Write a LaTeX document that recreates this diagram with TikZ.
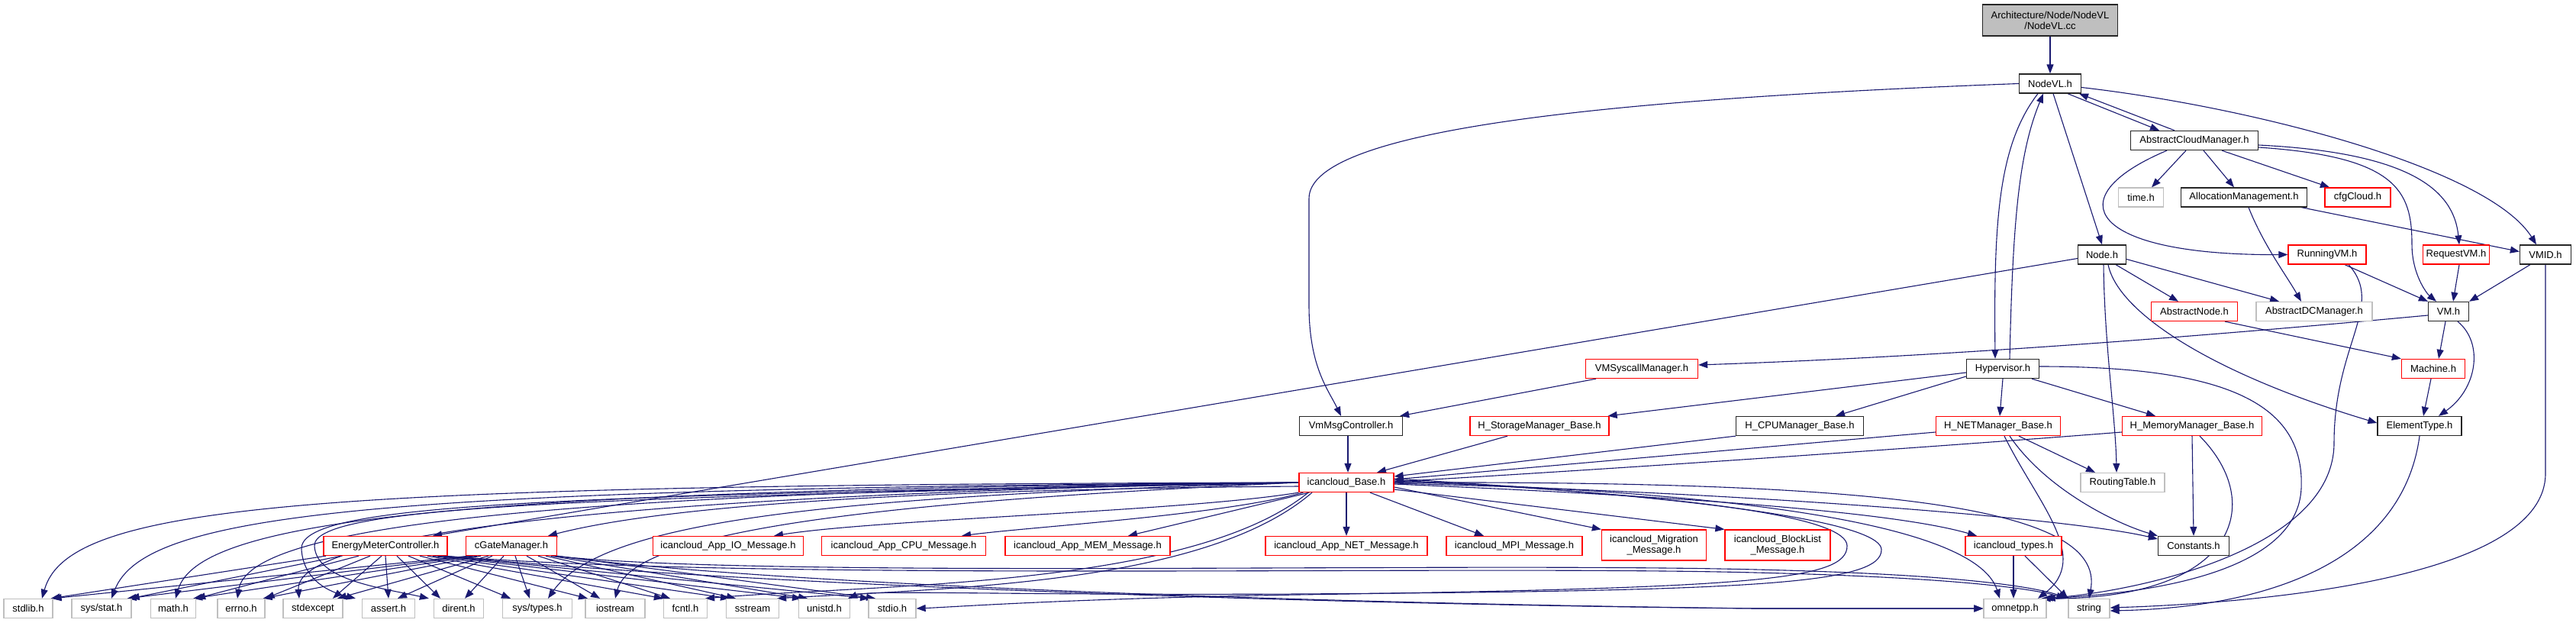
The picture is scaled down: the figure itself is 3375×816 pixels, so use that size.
\documentclass[tikz,border=0pt]{standalone}
\usepackage{fontspec}
\setmainfont{Liberation Sans}
\usetikzlibrary{arrows.meta}
\definecolor{edgeblue}{HTML}{191970}
\definecolor{grayb}{HTML}{BFBFBF}
\pgfdeclarelayer{back}
\pgfdeclarelayer{bg}
\pgfsetlayers{back,bg,main}
\begin{document}
\begin{tikzpicture}[x=1pt,y=-1pt,
  nbox/.style={draw, line width=1.3pt, fill=white, minimum height=25pt, inner sep=0pt, font=\fontsize{13}{14}\selectfont},
  blk/.style={nbox, draw=black!85},
  rbox/.style={nbox, draw=red},
  gbox/.style={nbox, draw=grayb},
  conn/.style={draw=edgeblue, line width=1.1pt, -{Triangle[length=12pt,width=9pt]}},
]
\begin{pgfonlayer}{back}
\fill[white] (0,0) rectangle (3375,816);
\end{pgfonlayer}
\useasboundingbox (0,0) rectangle (3375,816);

% ---------------- nodes ----------------
\node[blk, fill=grayb, minimum width=177, minimum height=41, align=center] (cc) at (2686,26.5) {Architecture/Node/NodeVL\\/NodeVL.cc};
\node[blk, minimum width=81] (nodevl) at (2686,109.5) {NodeVL.h};
\node[blk, minimum width=167] (acm) at (2875,184) {AbstractCloudManager.h};
\node[gbox, minimum width=59] (time) at (2805,258.5) {time.h};
\node[blk, minimum width=165] (alloc) at (2940,258.5) {AllocationManagement.h};
\node[rbox, minimum width=86] (cfg) at (3089,258.5) {cfgCloud.h};
\node[blk, minimum width=63] (node) at (2754,333.5) {Node.h};
\node[rbox, minimum width=102] (running) at (3049,333.5) {RunningVM.h};
\node[rbox, minimum width=87] (request) at (3218,333.5) {RequestVM.h};
\node[blk, minimum width=67] (vmid) at (3335,333.5) {VMID.h};
\node[rbox, minimum width=113] (abnode) at (2875,408) {AbstractNode.h};
\node[gbox, minimum width=152] (absdc) at (3032,408) {AbstractDCManager.h};
\node[blk, minimum width=53] (vm) at (3208,408) {VM.h};
\node[rbox, minimum width=147] (vmsys) at (2151,483) {VMSyscallManager.h};
\node[blk, minimum width=95] (hyper) at (2624,483) {Hypervisor.h};
\node[rbox, minimum width=83] (machine) at (3188,483) {Machine.h};
\node[blk, minimum width=135] (vmmsg) at (1770,558) {VmMsgController.h};
\node[rbox, minimum width=182] (hstor) at (2017,558) {H\_StorageManager\_Base.h};
\node[blk, minimum width=167] (hcpu) at (2358,558) {H\_CPUManager\_Base.h};
\node[rbox, minimum width=163] (hnet) at (2618,558) {H\_NETManager\_Base.h};
\node[rbox, minimum width=183] (hmem) at (2872,558) {H\_MemoryManager\_Base.h};
\node[blk, minimum width=110] (elem) at (3170,558) {ElementType.h};
\node[rbox, minimum width=124] (base) at (1764,632) {icancloud\_Base.h};
\node[gbox, minimum width=110] (routing) at (2781,632) {RoutingTable.h};
\node[rbox, minimum width=162] (emc) at (505,715) {EnergyMeterController.h};
\node[rbox, minimum width=119] (cgate) at (670,715) {cGateManager.h};
\node[rbox, minimum width=197] (io) at (954,715) {icancloud\_App\_IO\_Message.h};
\node[rbox, minimum width=215] (cpu) at (1184,715) {icancloud\_App\_CPU\_Message.h};
\node[rbox, minimum width=216] (mem) at (1425,715) {icancloud\_App\_MEM\_Message.h};
\node[rbox, minimum width=212] (net) at (1764,715) {icancloud\_App\_NET\_Message.h};
\node[rbox, minimum width=178] (mpi) at (1984,715) {icancloud\_MPI\_Message.h};
\node[rbox, minimum width=137, minimum height=40, align=center] (migr) at (2167,714) {icancloud\_Migration\\\_Message.h};
\node[rbox, minimum width=138, minimum height=40, align=center] (block) at (2329,714) {icancloud\_BlockList\\\_Message.h};
\node[rbox, minimum width=126] (types) at (2638,715) {icancloud\_types.h};
\node[blk, minimum width=93] (constants) at (2874,715) {Constants.h};
\node[gbox, minimum width=64] (stdlib) at (37,797) {stdlib.h};
\node[gbox, minimum width=78] (sysstat) at (133,797) {sys/stat.h};
\node[gbox, minimum width=59] (math) at (227,797) {math.h};
\node[gbox, minimum width=62] (errno) at (316,797) {errno.h};
\node[gbox, minimum width=78] (stdexcept) at (410,797) {stdexcept};
\node[gbox, minimum width=69] (assert) at (509,797) {assert.h};
\node[gbox, minimum width=65] (dirent) at (601,797) {dirent.h};
\node[gbox, minimum width=91] (systypes) at (704,797) {sys/types.h};
\node[gbox, minimum width=78] (iostream) at (806,797) {iostream};
\node[gbox, minimum width=57] (fcntl) at (898,797) {fcntl.h};
\node[gbox, minimum width=69] (sstream) at (986,797) {sstream};
\node[gbox, minimum width=67] (unistd) at (1080,797) {unistd.h};
\node[gbox, minimum width=62] (stdio) at (1169,797) {stdio.h};
\node[gbox, minimum width=82] (omnetpp) at (2640,797) {omnetpp.h};
\node[gbox, minimum width=54] (string) at (2737,797) {string};

% ---------------- connectors ----------------
\begin{pgfonlayer}{bg}
\draw[conn] (cc.south) -- (nodevl.north);
\draw[conn] ([xshift=23]nodevl.south) -- ([xshift=-46]acm.north);
\draw[conn] ([xshift=-26]acm.north) -- ([xshift=38]nodevl.south);
\draw[conn] ([yshift=-5]nodevl.east) .. controls (2950,140) and (3260,220) .. ([xshift=-12]vmid.north);
\draw[conn] ([xshift=4]nodevl.south) -- (node.north);
\draw[conn] ([xshift=-16]nodevl.south) .. controls (2618,190) and (2612,290) .. ([xshift=-10]hyper.north);
\draw[conn] ([xshift=9]hyper.north) .. controls (2637,290) and (2645,200) .. ([xshift=-9]nodevl.south);
\draw[conn] (nodevl.west) .. controls (2100,130) and (1715,170) .. (1715,260) -- (1715,400) .. controls (1715,480) and (1740,510) .. ([xshift=-13]vmmsg.north);
% AbstractCloudManager
\draw[conn] ([xshift=-11]acm.south) -- ([xshift=14]time.north);
\draw[conn] ([xshift=12]acm.south) -- ([xshift=-13]alloc.north);
\draw[conn] ([xshift=36]acm.south) -- ([xshift=-37]cfg.north);
\draw[conn] ([xshift=-36]acm.south) .. controls (2690,260) and (2740,335) .. (running.west);
\draw[conn] ([yshift=-9]acm.east) .. controls (3140,205) and (3160,250) .. (3160,320) .. controls (3160,360) and (3180,385) .. ([xshift=-16]vm.north);
\draw[conn] ([yshift=-6]acm.east) .. controls (3160,200) and (3215,250) .. ([xshift=4]request.north);
% AllocationManagement
\draw[conn] ([xshift=6]alloc.south) .. controls (2965,320) and (2995,360) .. ([xshift=-17]absdc.north);
\draw[conn] ([xshift=-8]alloc.south east) -- ([yshift=4]vmid.west);
% Node
\draw[conn] ([xshift=18]node.south) -- ([xshift=-21]abnode.north);
\draw[conn] ([yshift=-6]node.east) -- ([xshift=-46]absdc.north);
\draw[conn] ([xshift=2]node.south) .. controls (2757,450) and (2772,550) .. ([xshift=-8]routing.north);
\draw[conn] ([xshift=8]node.south) .. controls (2775,410) and (2900,490) .. ([yshift=4]elem.west);
\draw[conn] ([yshift=-5]node.west) -- ([xshift=62]emc.north);
% RunningVM, RequestVM, VMID
\draw[conn] ([xshift=23]running.south) -- (vm.north west);
\draw[conn] ([xshift=28]running.south) .. controls (3125,400) and (3058,450) .. (3058,580) .. controls (3058,720) and (2800,775) .. ([xshift=-4]omnetpp.north east);
\draw[conn] ([xshift=4]request.south) -- ([xshift=6]vm.north);
\draw[conn] ([xshift=-20]vmid.south) -- (vm.north east);
\draw[conn] (vmid.south) -- (3335,620) .. controls (3335,760) and (2950,790) .. ([yshift=1]string.east);
% VM, AbstractNode, Machine, ElementType
\draw[conn] ([xshift=-4]vm.south) -- ([xshift=7]machine.north);
\draw[conn] ([xshift=12]vm.south) .. controls (3255,450) and (3245,510) .. ([xshift=25]elem.north);
\draw[conn] ([yshift=-5]vm.west) .. controls (2700,458) and (2400,472) .. ([yshift=5]vmsys.east);
\draw[conn] ([xshift=40]abnode.south) -- (machine.north west);
\draw[conn] ([xshift=-3]machine.south) -- ([xshift=5]elem.north);
\draw[conn] (elem.south) .. controls (3150,720) and (3000,795) .. ([yshift=-3]string.east);
% Hypervisor
\draw[conn] ([yshift=-5]hyper.west) -- ([xshift=-2]hstor.north east);
\draw[conn] ([yshift=-10]hyper.west) -- ([xshift=47]hcpu.north);
\draw[conn] (hyper.south) -- ([xshift=2]hnet.north);
\draw[conn] ([xshift=38]hyper.south) -- ([xshift=-48]hmem.north);
\draw[conn] ([yshift=3]hyper.east) .. controls (2920,480) and (3020,530) .. (3015,640) .. controls (3010,740) and (2850,775) .. ([xshift=-1]omnetpp.north east);
% VMSyscallManager, VmMsgController, managers
\draw[conn] ([xshift=-60]vmsys.south) -- ([xshift=-4]vmmsg.north east);
\draw[conn] ([xshift=-4]vmmsg.south) -- ([xshift=2]base.north);
\draw[conn] ([xshift=-42]hstor.south) -- ([xshift=40]base.north);
\draw[conn] (hcpu.south west) -- ([yshift=8]base.east);
\draw[conn] ([yshift=-8]hnet.west) -- ([yshift=4]base.east);
\draw[conn] ([yshift=-8]hmem.west) .. controls (2500,588) and (2100,615) .. ([yshift=1]base.east);
\draw[conn] ([xshift=27]hnet.south) -- ([xshift=-36]routing.north);
\draw[conn] ([xshift=15]hnet.south) .. controls (2680,640) and (2770,685) .. (constants.north west);
\draw[conn] ([xshift=8]hnet.south) .. controls (2670,660) and (2740,730) .. ([xshift=30]omnetpp.north);
\draw[conn] (hmem.south) -- (constants.north);
\draw[conn] ([xshift=10]hmem.south) .. controls (2970,660) and (2930,785) .. ([xshift=-7]omnetpp.north east);
% icancloud_types
\draw[conn] (types.south) -- ([xshift=-2]omnetpp.north);
\draw[conn] ([xshift=15]types.south) -- (string.north west);
% icancloud_Base
\draw[conn] ([yshift=-5]base.west) .. controls (1300,640) and (900,655) .. ([xshift=48]cgate.north);
\draw[conn] (base.south west) .. controls (1550,670) and (1150,680) .. ([xshift=60]io.north);
\draw[conn] ([xshift=6]base.south west) .. controls (1600,675) and (1350,690) .. ([xshift=76]cpu.north);
\draw[conn] ([xshift=14]base.south west) -- ([xshift=53]mem.north);
\draw[conn] (base.south) -- (net.north);
\draw[conn] ([xshift=31]base.south) -- ([xshift=-40]mpi.north);
\draw[conn] ([yshift=-6]base.east) -- (migr.north west);
\draw[conn] ([yshift=-9]base.east) -- (block.north west);
\draw[conn] ([yshift=-2]base.east) .. controls (2200,650) and (2480,670) .. ([xshift=-48]types.north);
\draw[conn] ([yshift=-1]base.east) .. controls (2300,645) and (2720,680) .. ([yshift=9]constants.west);
\draw[conn] (base.east) .. controls (2450,630) and (2760,660) .. (string.north);
\draw[conn] ([yshift=1]base.east) .. controls (2300,645) and (2590,690) .. ([xshift=-20]omnetpp.north);
\draw[conn] ([yshift=3]base.east) .. controls (2250,650) and (2420,680) .. (2420,715) .. controls (2420,760) and (2300,770) .. (1700,779) .. controls (1400,784) and (1250,795) .. (stdio.east);
\draw[conn] ([yshift=5]base.east) .. controls (2300,655) and (2465,690) .. (2465,720) .. controls (2465,765) and (2300,774) .. (1700,778) .. controls (1300,780) and (1140,772) .. ([xshift=-3]unistd.north east);
\draw[conn] ([xshift=-45]base.south) .. controls (1580,765) and (1250,770) .. ([xshift=-3]sstream.north east);
\draw[conn] ([xshift=-50]base.south) .. controls (1560,770) and (1150,765) .. ([xshift=-3]fcntl.north east);
\draw[conn] (base.west) .. controls (400,635) and (90,660) .. ([xshift=18]stdlib.north);
\draw[conn] (base.west) .. controls (500,640) and (190,670) .. ([xshift=13]sysstat.north);
\draw[conn] (base.west) .. controls (600,642) and (260,680) .. ([xshift=3]math.north);
\draw[conn] (base.west) .. controls (700,645) and (325,690) .. ([xshift=-5]errno.north);
\draw[conn] (base.west) .. controls (800,648) and (385,700) .. ([xshift=-18]stdexcept.north);
\draw[conn] (base.west) .. controls (700,650) and (390,660) .. (395,720) .. controls (398,760) and (430,775) .. ([xshift=-8]assert.north west);
\draw[conn] (base.west) .. controls (800,652) and (410,660) .. (412,715) .. controls (414,760) and (500,770) .. ([xshift=-6]dirent.north west);
\draw[conn] (base.west) .. controls (1100,650) and (790,680) .. ([xshift=14]systypes.north);
\draw[conn] (base.west) .. controls (1200,655) and (830,690) .. (iostream.north);
% EnergyMeterController
\draw[conn] ([xshift=-78]emc.south) -- ([xshift=-3]stdlib.north east);
\draw[conn] ([xshift=-58]emc.south) -- ([xshift=-2]sysstat.north east);
\draw[conn] ([xshift=-35]emc.south) -- (math.north east);
\draw[conn] ([xshift=-20]emc.south) -- (errno.north east);
\draw[conn] ([xshift=-5]emc.south) -- ([xshift=26]stdexcept.north);
\draw[conn] (emc.south) -- (assert.north);
\draw[conn] ([xshift=15]emc.south) -- ([xshift=-24]dirent.north);
\draw[conn] ([xshift=30]emc.south) -- ([xshift=-35]systypes.north);
\draw[conn] ([xshift=45]emc.south) -- ([xshift=-36]iostream.north);
\draw[conn] ([xshift=55]emc.south) -- (fcntl.north west);
\draw[conn] ([xshift=62]emc.south) -- ([xshift=-30]sstream.north);
\draw[conn] ([xshift=68]emc.south) -- ([xshift=-30]unistd.north);
\draw[conn] ([xshift=72]emc.south) -- ([xshift=-30]stdio.north);
\draw[conn] ([xshift=78]emc.south) .. controls (900,760) and (1600,790) .. (2300,797) -- (omnetpp.west);
\draw[conn] ([xshift=76]emc.south) .. controls (1000,762) and (1900,740) .. (2300,750) .. controls (2550,756) and (2660,770) .. ([xshift=-3]string.north west);
% cGateManager
\draw[conn] ([xshift=-55]cgate.south) -- ([xshift=-1]stdlib.north east);
\draw[conn] ([xshift=-50]cgate.south) -- ([xshift=-6]sysstat.north east);
\draw[conn] ([xshift=-45]cgate.south) -- ([xshift=-4]math.north east);
\draw[conn] ([xshift=-40]cgate.south) -- ([xshift=-3]errno.north east);
\draw[conn] ([xshift=-30]cgate.south) -- ([xshift=32]stdexcept.north);
\draw[conn] ([xshift=-25]cgate.south) -- ([xshift=12]assert.north);
\draw[conn] ([xshift=-10]cgate.south) -- ([xshift=8]dirent.north);
\draw[conn] ([xshift=5]cgate.south) -- ([xshift=-10]systypes.north);
\draw[conn] ([xshift=20]cgate.south) -- ([xshift=-20]iostream.north);
\draw[conn] ([xshift=35]cgate.south) -- ([xshift=-20]fcntl.north);
\draw[conn] ([xshift=45]cgate.south) -- ([xshift=-22]sstream.north);
\draw[conn] ([xshift=52]cgate.south) -- ([xshift=-22]unistd.north);
\draw[conn] (cgate.south east) -- ([xshift=-22]stdio.north);
\draw[conn] ([xshift=-2]cgate.south east) .. controls (1000,765) and (1700,790) .. (2300,797) -- (omnetpp.west);
\draw[conn] ([xshift=-4]cgate.south east) .. controls (1000,758) and (1900,736) .. (2300,746) .. controls (2560,752) and (2665,768) .. (string.north west);
\end{pgfonlayer}
\end{tikzpicture}
\end{document}
